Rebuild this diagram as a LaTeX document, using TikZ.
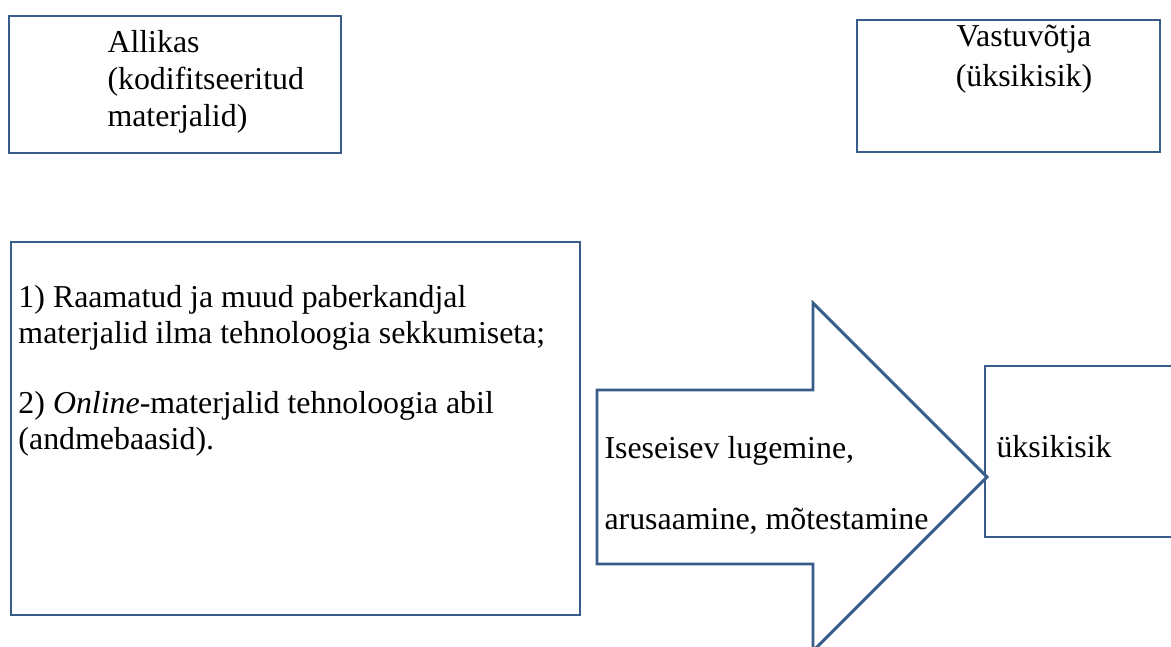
\documentclass[tikz,border=0pt]{standalone}
\usepackage{fontspec}
\setmainfont{Liberation Serif}
\usepackage{xcolor}
\usepackage{tikz}
\usetikzlibrary{positioning, fit}
\definecolor{edgeblue}{RGB}{56,93,138}

\begin{document}
\begin{tikzpicture}[
    x=0.4pt, y=-0.4pt,
    box/.style={draw=edgeblue, line width=1.15pt, inner sep=0pt},
    txt/.style={inner sep=0pt, align=left, font=\fontsize{12.75}{14.4}\selectfont},
    line join=miter
  ]
    \useasboundingbox (0,0) rectangle (1171,646);
    \node[box, fit={(9,16) (341,153)}] (src) {};
    \node[box, fit={(857,20) (1160,152)}] (dst) {};
    \node[box, fit={(11,242) (580,615)}] (media) {};
    \node[box, fit={(985,366) (1176,537)}] (single) {};
    \coordinate (tail) at (597,477);
    \coordinate (tip) at (987,477);
    \draw[draw=edgeblue, line width=1.15pt, fill=white]
      (tail |- 0,390) -- (813,390) -- (813,303) -- (tip)
      -- (813,651) -- (813,564) -- (tail |- 0,564) -- cycle;
    \node[txt, anchor=base west, font=\fontsize{12.75}{14.6}\selectfont] (srclbl) at (107,126)
      {Allikas\\(kodifitseeritud\\materjalid)};
    \node[txt, anchor=base, align=center, font=\fontsize{12.75}{16}\selectfont] (dstlbl) at (1024,87)
      {Vastuvõtja\\(üksikisik)};
    \node[txt, anchor=base west] (medialbl) at (18,449)
      {1) Raamatud ja muud paberkandjal\\materjalid ilma tehnoloogia sekkumiseta;\\[13.6pt]
       2) \textit{Online}-materjalid tehnoloogia abil\\(andmebaasid).};
    \node[txt, anchor=base west] (flowlbl) at (604,529)
      {Iseseisev lugemine,\\[14pt]arusaamine, mõtestamine};
    \node[txt, anchor=base west] (singlelbl) at (996,457) {üksikisik};
  \end{tikzpicture}
\end{document}
